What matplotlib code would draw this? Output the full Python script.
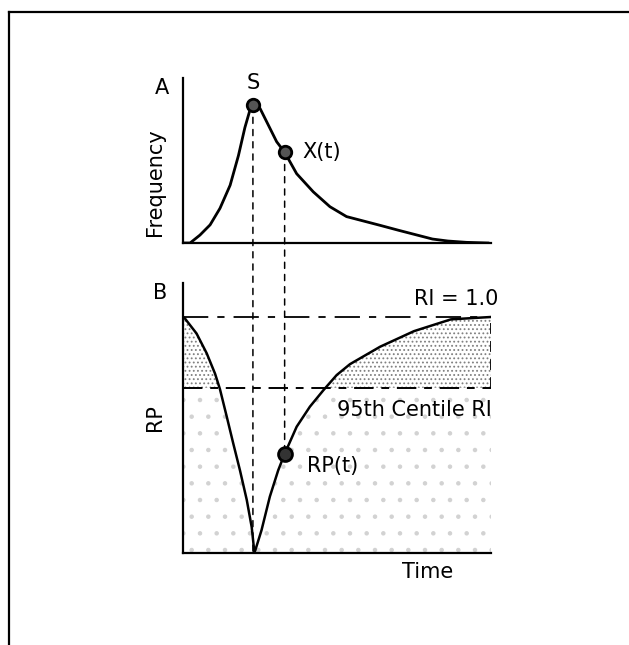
import numpy as np
import matplotlib
matplotlib.use('Agg')
import matplotlib.pyplot as plt
from matplotlib.lines   import Line2D
from matplotlib.patches import ConnectionPatch

### Curve values
time_a = [0.0, 0.23, 0.55, 0.88, 1.2, 1.53, 1.8, 2.01, 2.18, 2.27, 2.5,
          2.77, 3.04, 3.3, 3.69, 4.23, 4.77, 5.31, 6.4, 7.0, 8.1, 8.6,
          9.2, 9.9]
frequency = [0.0, 0.0, 0.048, 0.11, 0.21, 0.35, 0.53, 0.70, 0.81, 0.836, 0.816,
             0.715, 0.614, 0.55, 0.42, 0.31, 0.22, 0.16, 0.107, 0.077, 0.024,
             0.012, 0.004, 0.0]

time_b = [0.0, 0.06, 0.44, 0.77, 1.04, 1.2, 1.42, 1.63, 1.85, 2.07, 2.23,
          2.32, 2.55, 2.82, 3.09, 3.3, 3.69, 4.12, 4.56, 4.99, 5.42, 6.4,
          7.5, 8.7, 10.0]
rp = [1.0, 0.994, 0.93, 0.846, 0.76, 0.694, 0.578, 0.465, 0.35, 0.225, 0.11,
      0.0, 0.097, 0.239, 0.35, 0.42, 0.535, 0.62, 0.69, 0.754, 0.80, 0.874,
      0.94, 0.99, 1.0]

t_s, f_s   = 2.27, 0.836   # peak S
t_x, f_x   = 3.3, 0.55     # X(t)
rp_x       = 0.42          # RP(t)
ri_max     = 1.0
ri_centile = 0.70
t_end      = 10.0

t_b  = np.array(time_b)
rp_b = np.array(rp)

plt.rcParams['font.family'] = 'DejaVu Sans'
plt.rcParams['font.size']   = 15
plt.rcParams['hatch.linewidth'] = 0.8

fig = plt.figure(figsize=(6.29, 6.45), dpi=100)

W, H = 629., 645.
axA = fig.add_axes([183/W, 402/H, 308/W, 165/H])
axB = fig.add_axes([183/W, 92/H,  308/W, 270/H])

for ax in (axA, axB):
	ax.set_facecolor('none')
	ax.set_xlim(0, t_end)
	ax.set_xticks([])
	ax.set_yticks([])
	for s in ('top', 'right'):
		ax.spines[s].set_visible(False)
	for s in ('left', 'bottom'):
		ax.spines[s].set_linewidth(1.6)

axA.set_ylim(0, 1)
axB.set_ylim(0, 1.144)

### A: frequency curve
axA.plot(time_a, frequency, color='black', lw=2.0, zorder=3,
         solid_joinstyle='round')
for t, f in ((t_s, f_s), (t_x, f_x)):
	axA.plot(t, f, 'o', ms=9, mfc='#555555', mec='black', mew=2.0, zorder=4)

axA.annotate('S', (t_s, f_s), xytext=(0, 16), textcoords='offset points',
             ha='center', va='center')
axA.annotate('X(t)', (t_x, f_x), xytext=(13, 0), textcoords='offset points',
             ha='left', va='center')
axA.text(-0.068, 0.94, 'A', transform=axA.transAxes, ha='center', va='center')
axA.text(-0.091, 0.37, 'Frequency', transform=axA.transAxes, rotation=90,
         ha='center', va='center')

### B: RP curve with stippled areas
axB.fill_between(t_b, 0, np.minimum(rp_b, ri_centile), facecolor='none',
                 edgecolor='#d2d2d2', hatch='.', linewidth=0, zorder=1)
axB.fill_between(t_b, ri_centile, rp_b, where=rp_b >= ri_centile,
                 interpolate=True, facecolor='none', edgecolor='#808080',
                 hatch='....', linewidth=0, zorder=1)

axB.plot(t_b, rp_b, color='black', lw=1.8, zorder=3, solid_joinstyle='round')
axB.plot(t_x, rp_x, 'o', ms=10, mfc='#333333', mec='black', mew=2.0, zorder=4)

axB.plot([0, t_end], [ri_max, ri_max], color='black', lw=1.3,
         dashes=(14, 5, 4, 5), zorder=2)
axB.plot([0, t_end], [ri_centile, ri_centile], color='black', lw=1.4,
         dashes=(10, 4, 4, 4), zorder=2)
axB.plot([t_end, t_end], [ri_centile, ri_max], color='black', lw=1.3,
         dashes=(6, 4), zorder=2)

axB.annotate('RP(t)', (t_x, rp_x), xytext=(16, -9), textcoords='offset points',
             ha='left', va='center')
axB.text(10.25, 1.076, 'RI = 1.0', ha='right', va='center')
axB.text(10.03, 0.606, '95th Centile RI', ha='right', va='center')
axB.text(-0.075, 0.963, 'B', transform=axB.transAxes, ha='center', va='center')
axB.text(-0.091, 0.50, 'RP', transform=axB.transAxes, rotation=90,
         ha='center', va='center')
axB.text(0.795, -0.07, 'Time', transform=axB.transAxes, ha='center', va='center')

### dashed drop lines from panel A into panel B
for (xa, ya), (xb, yb) in (((t_s, f_s), (t_s, 0)), ((t_x, f_x), (t_x, rp_x))):
	con = ConnectionPatch(xyA=(xa, ya), coordsA=axA.transData,
	                      xyB=(xb, yb), coordsB=axB.transData,
	                      color='black', lw=1.1, linestyle=(0, (4, 4)),
	                      zorder=-1)
	fig.add_artist(con)

### page frame
fig.add_artist(Line2D([9/W, 1], [1 - 12/H, 1 - 12/H], transform=fig.transFigure,
                      color='black', lw=1.6))
fig.add_artist(Line2D([9/W, 9/W], [0, 1 - 12/H], transform=fig.transFigure,
                      color='black', lw=1.6))

plt.savefig('out.png', dpi=100)
